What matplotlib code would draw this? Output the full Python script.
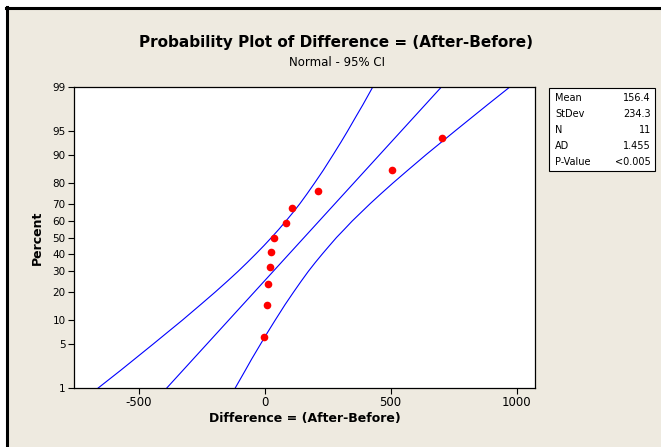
from statistics import NormalDist
import numpy as np
import matplotlib.pyplot as plt
from matplotlib.patches import Rectangle
from matplotlib.lines import Line2D

#%% data

diff_values = [-1, 8, 14, 22, 27, 36, 85, 108, 212, 505, 704]
stat_labels = ['Mean', 'StDev', 'N', 'AD', 'P-Value']
stat_values = ['156.4', '234.3', '11', '1.455', '<0.005']
mean_val = 156.4
sd_val = 234.3

# 95% CI bands (x at given percent)
band_pct = [1, 2, 3, 5, 7, 10, 15, 20, 25, 30, 35, 40, 45, 50,
            55, 60, 65, 70, 75, 80, 85, 90, 93, 95, 97, 98, 99]
band_lo = [-661, -572, -517, -442, -389, -328, -254, -196, -148, -106, -69, -35, -3, 27,
           56, 84, 112, 140, 168, 198, 232, 272, 303, 329, 364, 390, 429]
band_hi = [-117, -77, -52, -16, 10, 41, 81, 115, 145, 173, 201, 229, 257, 285,
           316, 347, 382, 419, 461, 509, 567, 641, 702, 755, 830, 885, 973]

y_ticks = [1, 5, 10, 20, 30, 40, 50, 60, 70, 80, 90, 95, 99]
x_ticks = [-500, 0, 500, 1000]

#%% helpers

W, H = 661, 447
nd = NormalDist()


def zq(p):
    return nd.inv_cdf(p / 100.0)


def fx(px):
    return px / W


def fy(py):
    return 1 - py / H


beige = '#EEEAE0'

fig = plt.figure(figsize=(W / 100, H / 100), dpi=100)
fig.patch.set_facecolor('white')
fig.add_artist(Rectangle((fx(8), 0), 1 - fx(8), fy(9), transform=fig.transFigure,
                         facecolor=beige, edgecolor='none', zorder=0))
fig.add_artist(Line2D([fx(6.5), fx(6.5)], [0, fy(6.5)], transform=fig.transFigure,
                      color='black', lw=2.2))
fig.add_artist(Line2D([fx(5.5), 1], [fy(7.5), fy(7.5)], transform=fig.transFigure,
                      color='black', lw=2.2))

#%% plot

ax = fig.add_axes([fx(74), fy(388), fx(535) - fx(74), fy(87) - fy(388)])
ax.set_facecolor('white')

n = len(diff_values)
xs = np.sort(np.array(diff_values, dtype=float))
ranks = np.arange(1, n + 1)
pp = (ranks - 0.3) / (n + 0.4) * 100
zs = [zq(p) for p in pp]

zlim = (zq(1), zq(99))
ax.plot([mean_val + sd_val * zlim[0], mean_val + sd_val * zlim[1]], zlim,
        color='#0000FF', lw=0.8)
bz = [zq(p) for p in band_pct]
ax.plot(band_lo, bz, color='#0000FF', lw=0.8)
ax.plot(band_hi, bz, color='#0000FF', lw=0.8)
ax.plot(xs, zs, 'o', color='#FF0000', ms=5.5, mec='none', zorder=5)

ax.set_xlim(-757, 1073)
ax.set_ylim(*zlim)
ax.set_yticks([zq(p) for p in y_ticks])
ax.set_yticklabels([str(p) for p in y_ticks])
ax.set_xticks(x_ticks)
ax.set_xticklabels([str(v) for v in x_ticks])
ax.tick_params(axis='y', length=4, width=0.8, labelsize=7.5, pad=2)
ax.tick_params(axis='x', length=4, width=0.8, labelsize=8.5, pad=2)
for s in ax.spines.values():
    s.set_linewidth(0.9)
    s.set_color('black')

ax.set_xlabel('Difference = (After-Before)', fontsize=9, fontweight='bold', labelpad=2)
ax.set_ylabel('Percent', fontsize=9, fontweight='bold', labelpad=6)

fig.text(fx(336), fy(42), 'Probability Plot of Difference = (After-Before)',
         ha='center', va='center', fontsize=11, fontweight='bold')
fig.text(fx(337), fy(62), 'Normal - 95% CI', ha='center', va='center', fontsize=8.5)

#%% stats box

fig.add_artist(Rectangle((fx(549), fy(171)), fx(655) - fx(549), fy(88) - fy(171),
                         transform=fig.transFigure, facecolor='white',
                         edgecolor='black', lw=0.8))
for i, (lab, val) in enumerate(zip(stat_labels, stat_values)):
    yy = fy(98 + i * 16)
    fig.text(fx(555), yy, lab, ha='left', va='center', fontsize=7)
    fig.text(fx(651), yy, val, ha='right', va='center', fontsize=7)

plt.savefig('out.png', dpi=100)
